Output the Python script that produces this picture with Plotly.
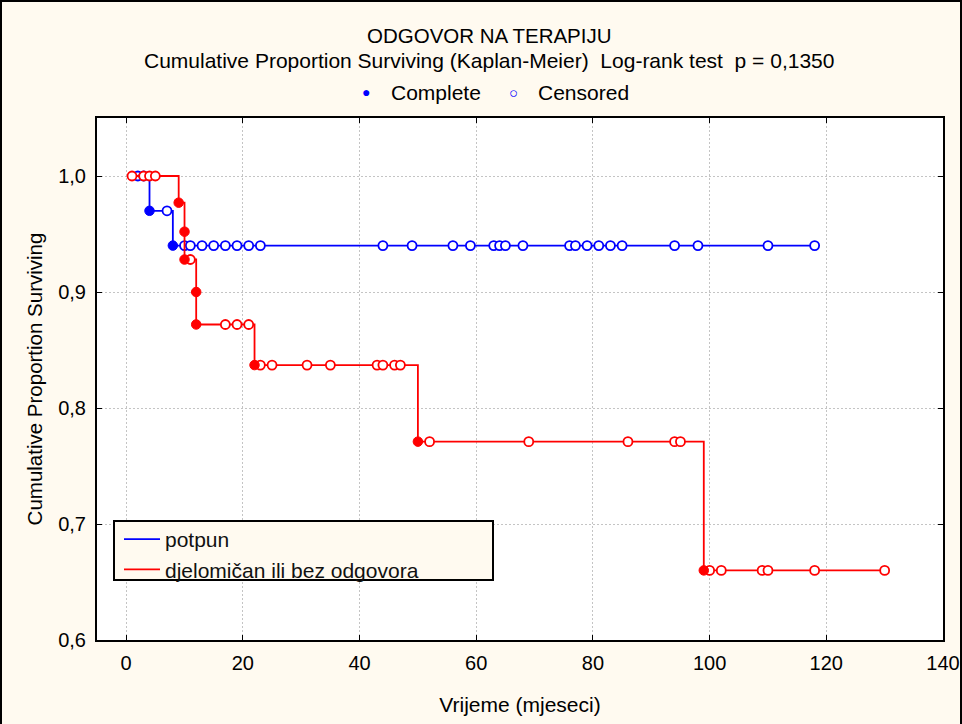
import plotly.graph_objects as go

# ---------------- data ----------------
# potpun (complete response) group
blue_step_x = [2, 4, 8, 118]
blue_step_y = [1.0, 0.970, 0.940, 0.940]
blue_event_x = [4, 8]
blue_event_y = [0.970, 0.940]
blue_cens_x = [2, 3, 7, 10, 11, 13, 15, 17, 19, 21, 23, 44, 49, 56, 59, 63, 64, 65,
               68, 76, 77, 79, 81, 83, 85, 94, 98, 110, 118]
blue_cens_y = [1.0, 1.0, 0.970] + [0.940] * 26

# djelomičan ili bez odgovora group
red_step_x = [1, 9, 10, 10, 12, 12, 22, 50, 99, 130]
red_step_y = [1.0, 0.977, 0.952, 0.928, 0.900, 0.872, 0.837, 0.771, 0.660, 0.660]
red_event_x = [9, 10, 10, 12, 12, 22, 50, 99]
red_event_y = [0.977, 0.952, 0.928, 0.900, 0.872, 0.837, 0.771, 0.660]
red_cens_x = [1, 3, 4, 5, 11, 17, 19, 21, 23, 25, 31, 35, 43, 44, 46, 47,
              52, 69, 86, 94, 95, 100, 102, 109, 110, 118, 130]
red_cens_y = ([1.0] * 4 + [0.928] + [0.872] * 3 + [0.837] * 8 + [0.771] * 5 + [0.660] * 6)

x_ticks = [0, 20, 40, 60, 80, 100, 120, 140]
y_ticks = [0.6, 0.7, 0.8, 0.9, 1.0]

series_names = ["potpun", "djelomičan ili bez odgovora"]
title1 = "ODGOVOR NA TERAPIJU"
title2 = "Cumulative Proportion Surviving (Kaplan-Meier)  Log-rank test  p = 0,1350"

# ---------------- styling ----------------
BLUE = "#0000ff"
RED = "#ff0000"
CREAM = "#fffaf0"
FONT = "Liberation Sans, Arial, sans-serif"

W, H = 962, 724
L, R, T, B = 97, 19, 118, 84
PW, PH = W - L - R, H - T - B


def px(xp):
    return (xp - L) / PW


def py(yp):
    return (H - B - yp) / PH


fig = go.Figure()

for sx, sy, ex, ey, cx, cy, col, name in [
    (blue_step_x, blue_step_y, blue_event_x, blue_event_y, blue_cens_x, blue_cens_y, BLUE, series_names[0]),
    (red_step_x, red_step_y, red_event_x, red_event_y, red_cens_x, red_cens_y, RED, series_names[1]),
]:
    fig.add_trace(go.Scatter(x=sx, y=sy, mode="lines", line=dict(color=col, width=1.8, shape="hv"),
                             name=name, showlegend=True, hoverinfo="skip"))
    fig.add_trace(go.Scatter(x=cx, y=cy, mode="markers", showlegend=False,
                             marker=dict(symbol="circle", size=9, color="white",
                                         line=dict(color=col, width=1.8))))
    fig.add_trace(go.Scatter(x=ex, y=ey, mode="markers", showlegend=False,
                             marker=dict(symbol="circle", size=9.5, color=col,
                                         line=dict(color=col, width=1))))

fig.update_layout(
    width=W, height=H, autosize=False,
    margin=dict(l=L, r=R, t=T, b=B, autoexpand=False),
    paper_bgcolor=CREAM, plot_bgcolor="white",
    separators=", ",
    font=dict(family=FONT, size=20, color="#000000"),
    showlegend=True,
    legend=dict(x=px(119), y=py(519), xanchor="left", yanchor="top",
                bgcolor="rgba(0,0,0,0)", borderwidth=0,
                font=dict(family=FONT, size=21, color="#111111"),
                tracegroupgap=0, itemwidth=36),
)

GRID = "#c4c4c4"
fig.update_xaxes(range=[-5, 140], tickvals=x_ticks, showgrid=True, gridcolor=GRID, automargin=False,
                 griddash="2px,2px", gridwidth=1, zeroline=False, showline=True, linecolor="black",
                 linewidth=2, mirror="ticks", ticks="inside", ticklen=5, tickcolor="black",
                 ticklabelstandoff=4,
                 title=dict(text="Vrijeme (mjeseci)", standoff=24, font=dict(size=21)),
                 tickfont=dict(size=20))
fig.update_yaxes(range=[0.6, 1.05], tickvals=y_ticks, tickformat=".1f", showgrid=True, automargin=False,
                 gridcolor=GRID, griddash="2px,2px", gridwidth=1, zeroline=False, showline=True,
                 linecolor="black", linewidth=2, mirror="ticks", ticks="inside", ticklen=5,
                 tickcolor="black", ticklabelstandoff=5,
                 title=dict(text="Cumulative Proportion Surviving", standoff=10, font=dict(size=20.5)),
                 tickfont=dict(size=20))

# legend box
fig.add_shape(type="rect", xref="paper", yref="paper",
              x0=px(114), x1=px(493), y0=py(580), y1=py(521),
              fillcolor=CREAM, line=dict(color="black", width=2), layer="above")
# outer frame
fig.add_shape(type="rect", xref="paper", yref="paper",
              x0=px(1), x1=px(W - 1), y0=py(H + 2), y1=py(1),
              line=dict(color="black", width=2), layer="above")

ann = [
    dict(x=px(489), y=py(35), text=title1, xanchor="center", size=20.5),
    dict(x=px(489), y=py(61), text=title2, xanchor="center", size=21),
    dict(x=px(389), y=py(92), text="Complete", xanchor="left", size=21),
    dict(x=px(536), y=py(92), text="Censored", xanchor="left", size=21),
]
for a in ann:
    s = a.pop("size")
    fig.add_annotation(xref="paper", yref="paper", yanchor="middle", showarrow=False,
                       font=dict(family=FONT, size=s, color="black"), **a)
fig.add_annotation(xref="paper", yref="paper", x=px(366), y=py(92), text="●", showarrow=False,
                   xanchor="center", yanchor="middle", font=dict(size=14, color=BLUE))
fig.add_annotation(xref="paper", yref="paper", x=px(513), y=py(92), text="○", showarrow=False,
                   xanchor="center", yanchor="middle", font=dict(size=15, color=BLUE))

fig.write_html(
    "out.html",
    config={"displayModeBar": False, "responsive": False},
    post_script=("document.documentElement.style.overflow='hidden';"
                 "document.body.style.overflow='hidden';"
                 "document.body.style.margin='0';"),
)
